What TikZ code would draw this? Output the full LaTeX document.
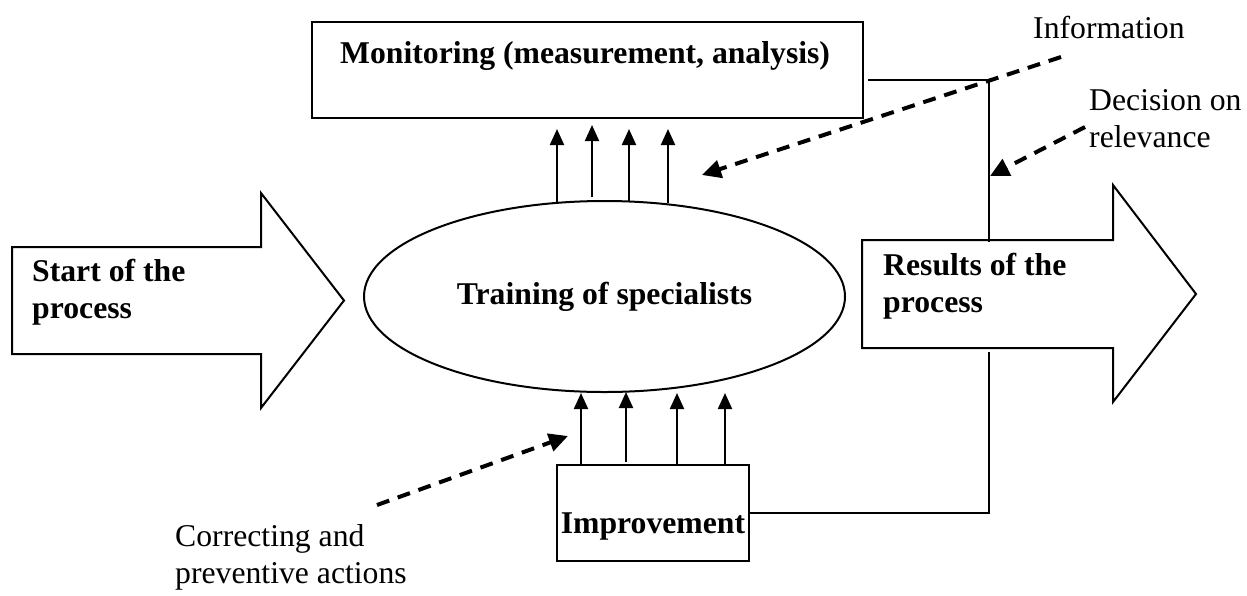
\documentclass[tikz,border=0pt]{standalone}
\usepackage{fontspec}
\setmainfont{Liberation Serif}
\usetikzlibrary{arrows.meta,shapes.geometric}
\begin{document}
\begin{tikzpicture}[x=1pt,y=-1pt,
  lbl/.style={inner sep=0pt, align=left, anchor=base west, font=\fontsize{31.7}{37}\selectfont},
  blbl/.style={inner sep=0pt, align=left, anchor=base west, font=\fontsize{31.7}{37}\selectfont\bfseries},
  edge/.style={line width=2pt},
  boxnode/.style={draw, line width=2pt, inner sep=0pt},
  uparr/.style={line width=2pt, -{Triangle[length=16pt,width=14pt]}},
  dasharr/.style={line width=4pt, dash pattern=on 13pt off 9pt, -{Triangle[length=19pt,width=18pt]}},
  conn/.style={line width=1.8pt}
]
\useasboundingbox (0,0) rectangle (1247,595);

% big arrows
\draw[edge, line join=miter] (12,247) -- (261,247) -- (261,193) -- (344,300.5) -- (261,408) -- (261,354) -- (12,354) -- cycle;
\node[blbl] (start) at (32,318) {Start of the\\process};

\draw[edge, line join=miter] (862,240) -- (1113,240) -- (1113,185) -- (1196,294) -- (1113,402) -- (1113,348) -- (862,348) -- cycle;
\node[blbl] (res) at (883,312) {Results of the\\process};

% monitoring box
\node[boxnode, minimum width=551pt, minimum height=96pt] (mon) at (587.5,70) {};
\node[blbl] (montext) at (340,63) {Monitoring (measurement, analysis)};

% ellipse
\node[boxnode, ellipse, minimum width=481pt, minimum height=191pt, font=\fontsize{31.7}{37}\selectfont\bfseries] (ell) at (604.5,296.5) {Training of specialists};

% improvement box
\node[boxnode, minimum width=192pt, minimum height=96pt] (imp) at (653,513) {};
\node[inner sep=0pt, anchor=base, font=\fontsize{31.7}{37}\selectfont\bfseries] (imptext) at (653,533) {Improvement};

% upward arrows ellipse -> monitoring
\coordinate (t1) at (557,129);
\coordinate (t2) at (592,125);
\coordinate (t3) at (629,129);
\coordinate (t4) at (668,129);
\draw[uparr] (557,203) -- (t1);
\draw[uparr] (592,197) -- (t2);
\draw[uparr] (629,201) -- (t3);
\draw[uparr] (668,203) -- (t4);

% upward arrows improvement -> ellipse
\coordinate (b1) at (581,393);
\coordinate (b2) at (626,392);
\coordinate (b3) at (677,393);
\coordinate (b4) at (725,393);
\draw[uparr] (b1 |- imp.north) -- (b1);
\draw[uparr] (626,462) -- (b2);
\draw[uparr] (b3 |- imp.north) -- (b3);
\draw[uparr] (b4 |- imp.north) -- (b4);

% feedback line
\coordinate (c1) at (868,80);
\coordinate (c2) at (989,80);
\coordinate (c3) at (989,242);
\coordinate (c4) at (989,352);
\coordinate (c5) at (989,513);
\draw[conn] (c1) -- (c2) -- (c3);
\draw[conn] (c4) -- (c5) -- (imp.east);

% labels
\node[lbl] (info) at (1033,38) {Information};
\node[lbl] (dec) at (1089,147) {Decision on\\relevance};
\node[lbl] (corr) at (175,583) {Correcting and\\preventive actions};

% dashed arrows
\coordinate (i0) at (1061,57);
\coordinate (i1) at (702,175);
\draw[dasharr] (i0) -- (i1);
\coordinate (d0) at (1085,127);
\coordinate (d1) at (990,176);
\draw[dasharr] (d0) -- (d1);
\coordinate (k0) at (377,505);
\coordinate (k1) at (568,436);
\draw[dasharr] (k0) -- (k1);
\end{tikzpicture}
\end{document}
